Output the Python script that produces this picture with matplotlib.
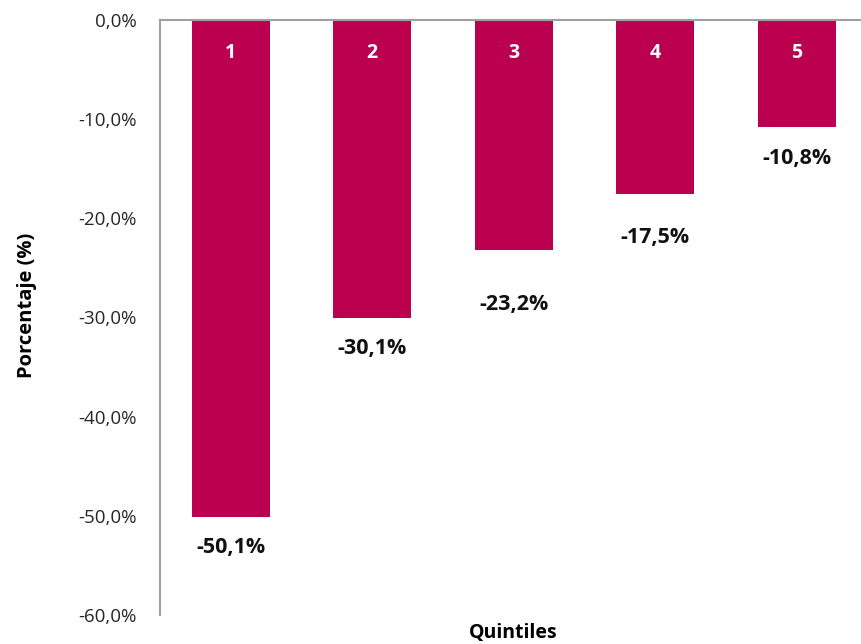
import matplotlib
matplotlib.use("Agg")
import matplotlib.pyplot as plt
from matplotlib.ticker import FuncFormatter

categories = ["1", "2", "3", "4", "5"]
values = [-50.1, -30.1, -23.2, -17.5, -10.8]
yticks = [0, -10, -20, -30, -40, -50, -60]
# distance (points) of each value label below its bar end, as placed in the original
label_gap_pt = [22.3, 21.6, 38.9, 31.7, 22.3]

plt.rcParams['font.family'] = ['Open Sans', 'DejaVu Sans']

fig = plt.figure(figsize=(8.62, 6.44), dpi=100)
ax = fig.add_axes([160/862, 1-615/644, 707.5/862, 595/644])
color = "#BC0050"
x = list(range(len(categories)))
ax.bar(x, values, width=0.55, color=color)
ax.set_xlim(-0.5, len(categories) - 0.5)
ax.set_ylim(-60, 0)
ax.set_yticks(yticks)
ax.yaxis.set_major_formatter(FuncFormatter(lambda v, p: f"{v:.1f}%".replace(".", ",")))
ax.tick_params(axis='y', length=0, labelsize=13.5, pad=16.5, colors="#262626")
ax.set_xticks([])
for s in ["right", "bottom"]:
    ax.spines[s].set_visible(False)
for s in ["left", "top"]:
    ax.spines[s].set_color("#A0A0A0")
    ax.spines[s].set_linewidth(1.5)

for xi, c, v, g in zip(x, categories, values, label_gap_pt):
    ax.annotate(c, (xi, 0), xytext=(0, -23.5), textcoords="offset points",
                ha="center", va="center", color="white", fontsize=14, fontweight="bold")
    ax.annotate(f"{v:.1f}%".replace(".", ","), (xi, v), xytext=(0, -g),
                textcoords="offset points", ha="center", va="center",
                color="#111111", fontsize=15.5, fontweight="bold")

fig.text(513/862, 1-633/644, "Quintiles", ha="center", va="center", fontsize=14, fontweight="bold")
fig.text(27/862, 1-305/644, "Porcentaje (%)", ha="center", va="center", rotation=90,
         fontsize=14.5, fontweight="bold")

fig.savefig("out.png", dpi=100)
